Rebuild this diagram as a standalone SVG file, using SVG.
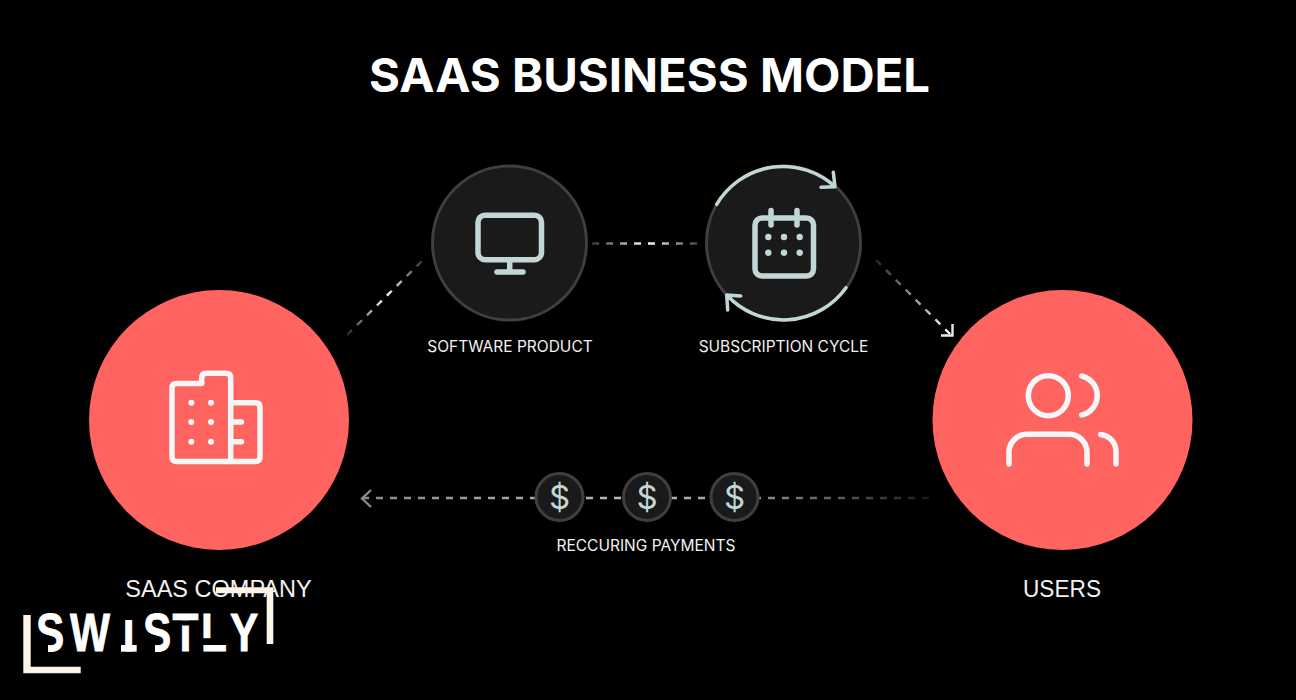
<svg xmlns="http://www.w3.org/2000/svg" width="1296" height="700" viewBox="0 0 1296 700">
  <style>
    .title { font: 700 47px Inter, "Liberation Sans", Arial, sans-serif; fill: #fff; }
    .label { font: 400 15.500px Inter, "Liberation Sans", sans-serif; fill: #f2f2f2; text-anchor: middle; }
    .big { font: 400 23.500px "Liberation Sans", Arial, sans-serif; fill: #f2f2f2; text-anchor: middle; }
    .coral { fill: #ff6461; }
    .dark { fill: #1a1a1a; stroke: #3f3f3f; stroke-width: 3; }
    .ico { fill: none; stroke: #c2d6d6; stroke-linecap: round; stroke-linejoin: round; stroke-width: 5.500; }
    .ico-w { fill: none; stroke: #f4f7f8; stroke-linecap: round; stroke-linejoin: round; stroke-width: 5.500; }
    .dash { fill: none; stroke-width: 2.400; stroke-dasharray: 7 7; }
    .dollar { font: 400 33px Inter, "Liberation Sans", sans-serif; fill: #c2d6d6; text-anchor: middle; }
    .logo { font: 700 53px "Liberation Sans", Arial, sans-serif; fill: #fff; stroke: #fff; stroke-width: .8; }
    .frame { fill: #fff4e8; }
  </style>
  <defs>
    <linearGradient id="fadeA" gradientUnits="userSpaceOnUse" x1="347" y1="335" x2="425" y2="258">
      <stop offset="0" stop-color="#fff" stop-opacity=".15"/><stop offset=".5" stop-color="#fff"/><stop offset="1" stop-color="#fff" stop-opacity=".15"/>
    </linearGradient>
    <linearGradient id="fadeB" gradientUnits="userSpaceOnUse" x1="592" y1="0" x2="702" y2="0">
      <stop offset="0" stop-color="#fff" stop-opacity=".2"/><stop offset=".5" stop-color="#fff"/><stop offset="1" stop-color="#fff" stop-opacity=".2"/>
    </linearGradient>
    <linearGradient id="fadeC" gradientUnits="userSpaceOnUse" x1="876" y1="260" x2="950" y2="335">
      <stop offset="0" stop-color="#fff" stop-opacity=".15"/><stop offset="1" stop-color="#fff"/>
    </linearGradient>
    <linearGradient id="fadeD" gradientUnits="userSpaceOnUse" x1="362" y1="0" x2="935" y2="0">
      <stop offset="0" stop-color="#8a8a8a"/><stop offset=".5" stop-color="#bdbdbd"/><stop offset="1" stop-color="#fff" stop-opacity=".08"/>
    </linearGradient>
  </defs>

  <rect width="1296" height="700" fill="#000"/>
  <text class="title" x="369" y="92" textLength="561" lengthAdjust="spacingAndGlyphs">SAAS BUSINESS MODEL</text>

  <g id="connectors">
    <path class="dash" stroke="url(#fadeA)" d="M347 335L425 258"/>
    <path class="dash" stroke="url(#fadeB)" d="M592 243.500H702"/>
    <path class="dash" stroke="url(#fadeC)" d="M876 260L950 334"/>
    <path fill="none" stroke="#e8e8e8" stroke-width="2.400" d="M941 335.500H952.500V324"/>
    <path class="dash" stroke="url(#fadeD)" d="M362 498H935"/>
    <path fill="none" stroke="#8a8a8a" stroke-width="2.400" d="M371 490L362 498.500L371 507"/>
  </g>

  <g id="saas-company">
    <circle class="coral" cx="219" cy="420" r="130"/>
    <path class="ico-w" d="M230.700 461.500H176.500Q172 461.500 172 457V388Q172 383.500 176.500 383.500H201.700V378Q201.700 373.300 206.500 373.300H226Q230.700 373.300 230.700 378V461.500"/>
    <path class="ico-w" d="M230.700 402.700H255.500Q260 402.700 260 407V457Q260 461.500 255.500 461.500H230.700M230.700 422H241.500M230.700 441.700H241.500"/>
    <g fill="#f4f7f8">
      <circle cx="191.300" cy="402.700" r="3"/><circle cx="211" cy="402.700" r="3"/>
      <circle cx="191.300" cy="422" r="3"/><circle cx="211" cy="422" r="3"/>
      <circle cx="191.300" cy="441.700" r="3"/><circle cx="211" cy="441.700" r="3"/>
    </g>
    <text class="big" x="218.500" y="596.500">SAAS COMPANY</text>
  </g>

  <g id="software-product">
    <circle class="dark" cx="509.500" cy="243" r="77"/>
    <rect class="ico" x="478" y="215.200" width="63.500" height="44.500" rx="7"/>
    <path class="ico" d="M509.700 262V272M497 272H523"/>
    <text class="label" x="510" y="351.500">SOFTWARE PRODUCT</text>
  </g>

  <g id="subscription-cycle">
    <circle class="dark" cx="783.500" cy="243" r="77"/>
    <path fill="none" stroke="#c2d6d6" stroke-width="3.500" stroke-linecap="round" stroke-linejoin="round" d="M716.700 204.300A77 77 0 0 1 835 186.700M833.300 172.300L835 186.700L821 187.300M846 287.700A77 77 0 0 1 726.700 295M727.700 310L726.700 295L740.700 296"/>
    <rect class="ico" x="755" y="218" width="58.500" height="58" rx="7"/>
    <path class="ico" d="M771 210.500V225M797 210.500V225"/>
    <g fill="#c2d6d6">
      <circle cx="768.300" cy="237" r="3.200"/><circle cx="784" cy="237" r="3.200"/><circle cx="799.700" cy="237" r="3.200"/>
      <circle cx="768.300" cy="252.700" r="3.200"/><circle cx="784" cy="252.700" r="3.200"/><circle cx="799.700" cy="252.700" r="3.200"/>
    </g>
    <text class="label" x="783.500" y="351.500">SUBSCRIPTION CYCLE</text>
  </g>

  <g id="recurring-payments">
    <circle class="dark" cx="559.500" cy="497" r="23.500"/>
    <circle class="dark" cx="647" cy="497" r="23.500"/>
    <circle class="dark" cx="734.500" cy="497" r="23.500"/>
    <text class="dollar" x="559.500" y="508.500">$</text>
    <text class="dollar" x="647" y="508.500">$</text>
    <text class="dollar" x="734.500" y="508.500">$</text>
    <text class="label" x="646" y="551">RECCURING PAYMENTS</text>
  </g>

  <g id="users">
    <circle class="coral" cx="1062.500" cy="420" r="130"/>
    <circle class="ico-w" cx="1048.300" cy="395.700" r="20"/>
    <path class="ico-w" d="M1081.700 376A20 20 0 0 1 1081.700 415M1009 464V452A18 18 0 0 1 1027 434.300H1069A18 18 0 0 1 1087 452V464M1100.700 434.500A17 17 0 0 1 1116 451V464"/>
    <text class="big" x="1062" y="596.500" textLength="78" lengthAdjust="spacingAndGlyphs">USERS</text>
  </g>

  <g id="logo">
    <path class="frame" d="M23.300 615H30.700V666.700H80.700V673.300H23.300ZM216 587.300H273.300V644H266.700V593.300H216Z"/>
    <!-- wordmark: condensed to 80% and placed letter by letter, then notched in black -->
    <text class="logo" transform="scale(.8 1)" x="45 87.500 153.600 178.800 215.600 251.300 287.500" y="651.300">SWISTLY</text>
    <path fill="#000" d="M35 638H48V653H35ZM142 638H155V653H142ZM122 612H138V620H122ZM172 620.500H199V625.500H172ZM201 638.300H228V645H201Z"/>
    <path fill="#fff" d="M121 645H136.700V651.700H121Z"/>
  </g>
</svg>
